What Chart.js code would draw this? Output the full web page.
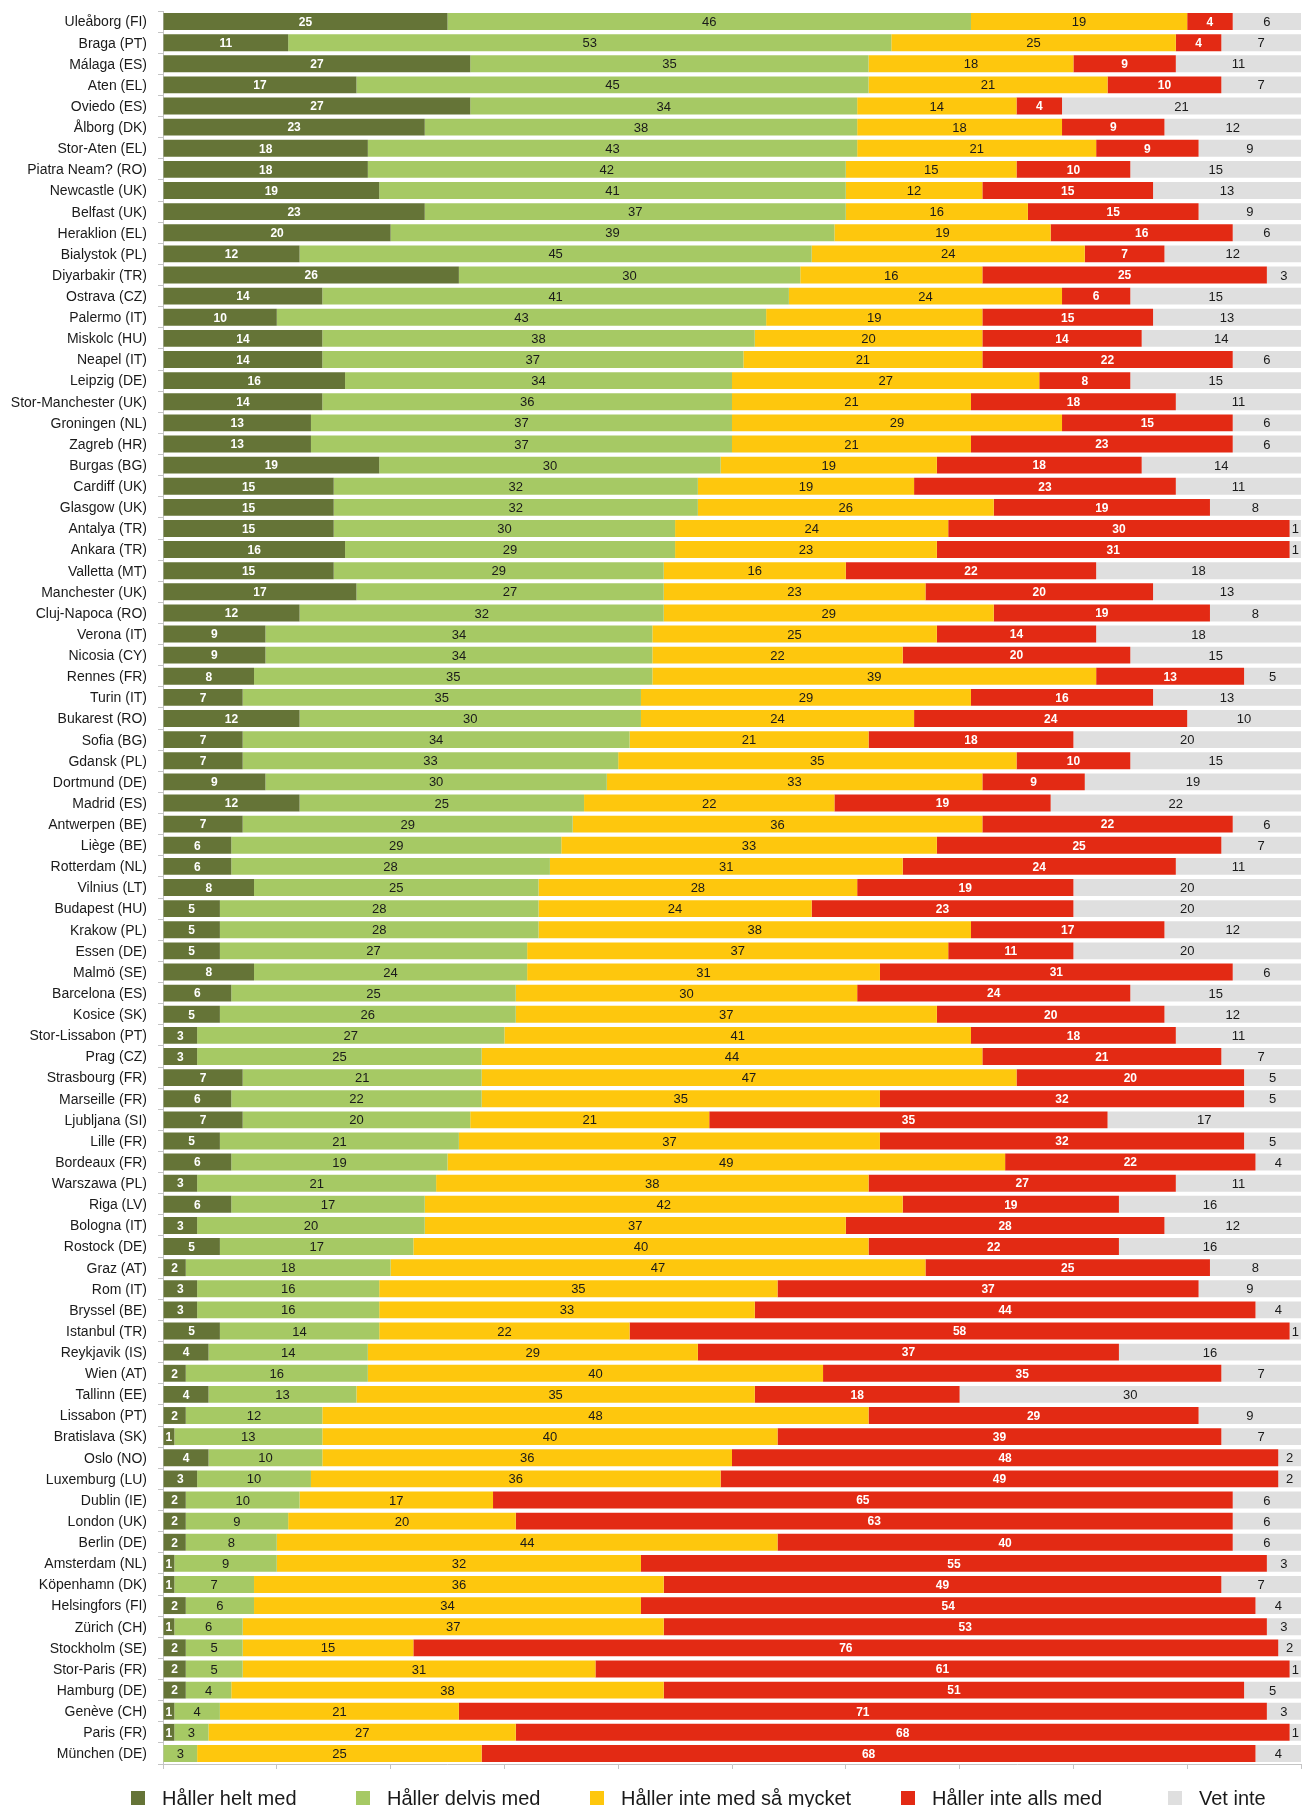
<!DOCTYPE html>
<html lang="sv">
<head>
<meta charset="utf-8">
<title>Håller med per stad</title>
<script src="https://cdn.jsdelivr.net/npm/chart.js@4.4.1/dist/chart.umd.min.js"></script>
<style>
  body { margin: 0; background: #fff; }
  #wrap { position: relative; width: 1303px; height: 1807px; }
  #legend {
    position: absolute; left: 131px; top: 1788px;
    display: grid; grid-template-columns: 225px 234px 311px 267px auto;
    font: 20px "Liberation Sans", Arial, sans-serif; color: #1a1a1a; line-height: 20px;
  }
  #legend .item { display: flex; align-items: center; white-space: nowrap; }
  #legend .box { width: 14px; height: 14px; margin-right: 17px; flex: none; }
</style>
</head>
<body>
<div id="wrap">
  <canvas id="chart" width="1303" height="1807"></canvas>
  <div id="legend"></div>
</div>
<script>
const cities = [
  "Uleåborg (FI)", "Braga (PT)", "Málaga (ES)", "Aten (EL)", "Oviedo (ES)", "Ålborg (DK)",
  "Stor-Aten (EL)", "Piatra Neam? (RO)", "Newcastle (UK)", "Belfast (UK)", "Heraklion (EL)",
  "Bialystok (PL)", "Diyarbakir (TR)", "Ostrava (CZ)", "Palermo (IT)", "Miskolc (HU)",
  "Neapel (IT)", "Leipzig (DE)", "Stor-Manchester (UK)", "Groningen (NL)", "Zagreb (HR)",
  "Burgas (BG)", "Cardiff (UK)", "Glasgow (UK)", "Antalya (TR)", "Ankara (TR)", "Valletta (MT)",
  "Manchester (UK)", "Cluj-Napoca (RO)", "Verona (IT)", "Nicosia (CY)", "Rennes (FR)",
  "Turin (IT)", "Bukarest (RO)", "Sofia (BG)", "Gdansk (PL)", "Dortmund (DE)", "Madrid (ES)",
  "Antwerpen (BE)", "Liège (BE)", "Rotterdam (NL)", "Vilnius (LT)", "Budapest (HU)",
  "Krakow (PL)", "Essen (DE)", "Malmö (SE)", "Barcelona (ES)", "Kosice (SK)",
  "Stor-Lissabon (PT)", "Prag (CZ)", "Strasbourg (FR)", "Marseille (FR)", "Ljubljana (SI)",
  "Lille (FR)", "Bordeaux (FR)", "Warszawa (PL)", "Riga (LV)", "Bologna (IT)", "Rostock (DE)",
  "Graz (AT)", "Rom (IT)", "Bryssel (BE)", "Istanbul (TR)", "Reykjavik (IS)", "Wien (AT)",
  "Tallinn (EE)", "Lissabon (PT)", "Bratislava (SK)", "Oslo (NO)", "Luxemburg (LU)",
  "Dublin (IE)", "London (UK)", "Berlin (DE)", "Amsterdam (NL)", "Köpenhamn (DK)",
  "Helsingfors (FI)", "Zürich (CH)", "Stockholm (SE)", "Stor-Paris (FR)", "Hamburg (DE)",
  "Genève (CH)", "Paris (FR)", "München (DE)"
];

const helt = [25, 11, 27, 17, 27, 23, 18, 18, 19, 23, 20, 12, 26, 14, 10, 14, 14, 16, 14, 13, 13,
  19, 15, 15, 15, 16, 15, 17, 12, 9, 9, 8, 7, 12, 7, 7, 9, 12, 7, 6, 6, 8, 5, 5, 5, 8, 6, 5,
  3, 3, 7, 6, 7, 5, 6, 3, 6, 3, 5, 2, 3, 3, 5, 4, 2, 4, 2, 1, 4, 3, 2, 2, 2, 1, 1, 2, 1, 2, 2, 2,
  1, 1, 0];

const delvis = [46, 53, 35, 45, 34, 38, 43, 42, 41, 37, 39, 45, 30, 41, 43, 38, 37, 34, 36, 37, 37,
  30, 32, 32, 30, 29, 29, 27, 32, 34, 34, 35, 35, 30, 34, 33, 30, 25, 29, 29, 28, 25, 28, 28, 27,
  24, 25, 26, 27, 25, 21, 22, 20, 21, 19, 21, 17, 20, 17, 18, 16, 16, 14, 14, 16, 13, 12, 13, 10,
  10, 10, 9, 8, 9, 7, 6, 6, 5, 5, 4, 4, 3, 3];

const inteSaMycket = [19, 25, 18, 21, 14, 18, 21, 15, 12, 16, 19, 24, 16, 24, 19, 20, 21, 27, 21, 29,
  21, 19, 19, 26, 24, 23, 16, 23, 29, 25, 22, 39, 29, 24, 21, 35, 33, 22, 36, 33, 31, 28, 24, 38,
  37, 31, 30, 37, 41, 44, 47, 35, 21, 37, 49, 38, 42, 37, 40, 47, 35, 33, 22, 29, 40, 35, 48, 40,
  36, 36, 17, 20, 44, 32, 36, 34, 37, 15, 31, 38, 21, 27, 25];

const inteAlls = [4, 4, 9, 10, 4, 9, 9, 10, 15, 15, 16, 7, 25, 6, 15, 14, 22, 8, 18, 15, 23, 18, 23,
  19, 30, 31, 22, 20, 19, 14, 20, 13, 16, 24, 18, 10, 9, 19, 22, 25, 24, 19, 23, 17, 11, 31, 24,
  20, 18, 21, 20, 32, 35, 32, 22, 27, 19, 28, 22, 25, 37, 44, 58, 37, 35, 18, 29, 39, 48, 49, 65,
  63, 40, 55, 49, 54, 53, 76, 61, 51, 71, 68, 68];

const vetInte = [6, 7, 11, 7, 21, 12, 9, 15, 13, 9, 6, 12, 3, 15, 13, 14, 6, 15, 11, 6, 6, 14, 11, 8,
  1, 1, 18, 13, 8, 18, 15, 5, 13, 10, 20, 15, 19, 22, 6, 7, 11, 20, 20, 12, 20, 6, 15, 12, 11, 7,
  5, 5, 17, 5, 4, 11, 16, 12, 16, 8, 9, 4, 1, 16, 7, 30, 9, 7, 2, 2, 6, 6, 6, 3, 7, 4, 3, 2, 1, 5,
  3, 1, 4];

const seriesNames = ["Håller helt med", "Håller delvis med", "Håller inte med så mycket",
  "Håller inte alls med", "Vet inte"];
const xTicks = [0, 10, 20, 30, 40, 50, 60, 70, 80, 90, 100];

const sans = '"Liberation Sans", Arial, sans-serif';

// segment colours, and how the value inside each segment is written
const styles = [
  { bg: "#657437", text: "#ffffff", bold: true },
  { bg: "#a6c964", text: "#1a1a1a", bold: false },
  { bg: "#fec70d", text: "#1a1a1a", bold: false },
  { bg: "#e32a14", text: "#ffffff", bold: true },
  { bg: "#dfdfdf", text: "#1a1a1a", bold: false }
];

const values = [helt, delvis, inteSaMycket, inteAlls, vetInte];

const datasets = values.map((data, i) => ({
  label: seriesNames[i],
  data: data,
  backgroundColor: styles[i].bg,
  borderWidth: 0,
  barPercentage: 0.8,
  categoryPercentage: 1.0,
  labelColor: styles[i].text,
  labelBold: styles[i].bold
}));

// write each value in the middle of its segment
const segmentLabels = {
  id: "segmentLabels",
  afterDatasetsDraw(chart) {
    const ctx = chart.ctx;
    ctx.save();
    ctx.textAlign = "center";
    ctx.textBaseline = "middle";
    chart.data.datasets.forEach((ds, i) => {
      const meta = chart.getDatasetMeta(i);
      if (meta.hidden) return;
      ctx.font = ds.labelBold ? "bold 12px " + sans : "13px " + sans;
      ctx.fillStyle = ds.labelColor;
      meta.data.forEach((bar, j) => {
        const v = ds.data[j];
        if (!v) return;
        const p = bar.getProps(["x", "y", "base"], true);
        ctx.fillText(String(v), (p.x + p.base) / 2, p.y + 1);
      });
    });
    ctx.restore();
  }
};

new Chart(document.getElementById("chart"), {
  type: "bar",
  data: { labels: cities, datasets: datasets },
  plugins: [segmentLabels],
  options: {
    indexAxis: "y",
    responsive: false,
    animation: false,
    layout: { padding: { top: 11, right: 2, bottom: 38, left: 0 } },
    plugins: {
      legend: { display: false },
      tooltip: { enabled: false }
    },
    scales: {
      x: {
        stacked: true,
        min: 0,
        max: 100,
        afterBuildTicks(scale) { scale.ticks = xTicks.map(v => ({ value: v })); },
        ticks: { display: false },
        grid: { drawOnChartArea: false, tickLength: 5, color: "#c4c4c4" },
        border: { color: "#c4c4c4" }
      },
      y: {
        stacked: true,
        afterFit(scale) {
          // fixed label column; the bars start at the same x in every row
          scale.width = 163;
          scale.paddingTop = 0;
          scale.paddingBottom = 0;
        },
        ticks: {
          autoSkip: false,
          padding: 11,
          labelOffset: 1,
          color: "#1a1a1a",
          font: { family: sans, size: 14 }
        },
        grid: { drawOnChartArea: false, tickLength: 5, color: "#c4c4c4" },
        border: { color: "#c4c4c4" }
      }
    }
  }
});

const legend = document.getElementById("legend");
seriesNames.forEach((name, i) => {
  const item = document.createElement("div");
  item.className = "item";
  const box = document.createElement("span");
  box.className = "box";
  box.style.background = styles[i].bg;
  item.appendChild(box);
  item.appendChild(document.createTextNode(name));
  legend.appendChild(item);
});
</script>
</body>
</html>
